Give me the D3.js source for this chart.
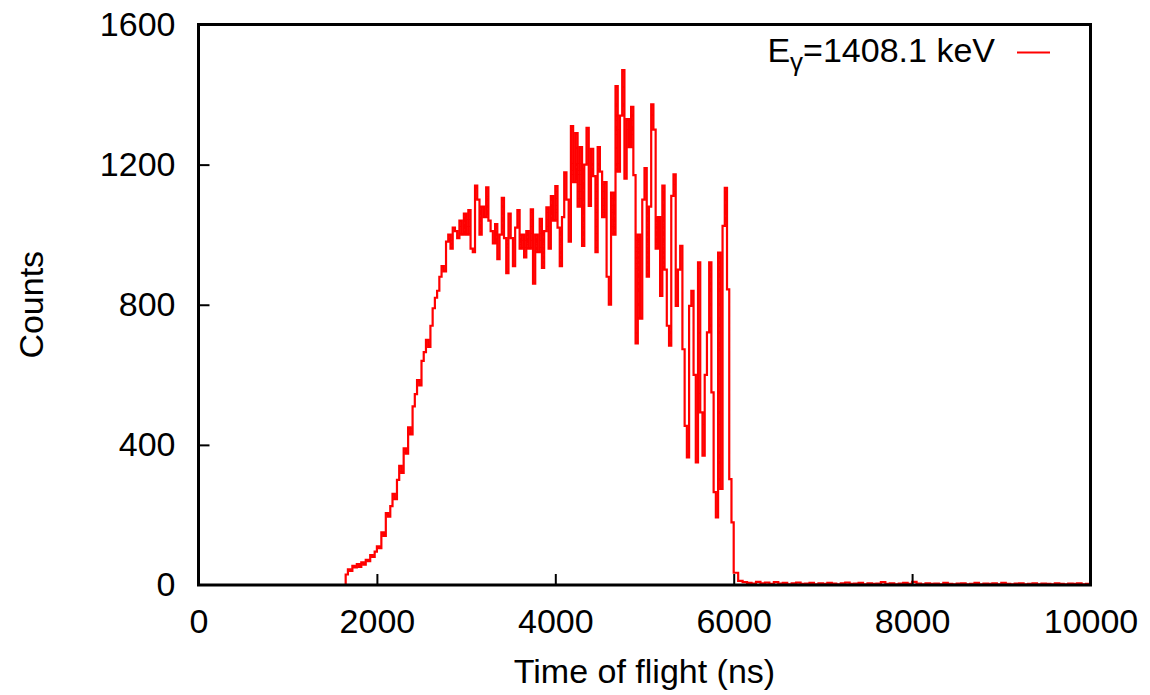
<!DOCTYPE html>
<html>
<head>
<meta charset="utf-8">
<script src="https://cdn.jsdelivr.net/npm/d3@7"></script>
<style>
  body { margin: 0; background: #fff; }
  svg text { font-family: "Liberation Sans", Arial, Helvetica, sans-serif; fill: #000; }
</style>
</head>
<body>
<svg id="chart" width="1150" height="695"></svg>
<script>
// histogram, 25 ns bins from 1650 ns up to 6000 ns
var binStart = 1650,
    binWidth = 25,
    counts = [
      30, 45, 40, 55, 50, 60, 52, 65, 58, 72, 68, 85, 80, 95,
      110, 105, 150, 140, 205, 195, 225, 260, 245, 300,
      340, 320, 390, 375, 450, 430, 510, 545, 585, 570,
      640, 665, 700, 680, 740, 790, 820, 840, 880, 910,
      895, 980, 1000, 960, 1020, 1010, 990, 1040, 1000, 1060,
      1000, 1070, 960, 950, 1140, 1100, 1000, 1080, 1050, 1135,
      1040, 1010, 975, 1030, 930, 1000, 1105, 990, 890, 1060,
      990, 910, 1020, 1070, 960, 1000, 935, 1010, 960, 1072,
      860, 1000, 950, 1045, 905, 1010, 1078, 960, 1110, 1040,
      1139, 1020, 910, 1050, 1178, 1100, 980, 1310, 1150, 1290,
      1080, 1250, 968, 1200, 1305, 1082, 1245, 1167, 950, 1250,
      1180, 1050, 1150, 880, 800, 1120, 1000, 1424, 1180, 1340,
      1470, 1160, 1330, 1250, 1365, 1170, 690, 1000, 760, 1100,
      1190, 880, 1080, 1372, 1300, 960, 1050, 825, 1140, 900,
      740, 683, 1111, 1172, 797, 900, 968, 673, 454, 364,
      797, 840, 600, 350, 921, 493, 369, 600, 721, 921,
      550, 265, 193, 949, 274, 1025, 1134, 844, 302, 179
    ];

// tail after the cut-off, 50 ns bins from 6000 ns
var tailStart = 6000,
    tailWidth = 50,
    tailCounts = [
      35, 12, 8, 6, 4, 9, 5, 7, 3, 8, 4, 6, 2, 5, 7, 3, 4, 6, 2, 5,
      3, 6, 4, 2, 5, 7, 3, 4, 6, 2, 5, 3, 4, 8, 3, 5, 2, 4, 6, 3,
      9, 4, 2, 5, 3, 4, 2, 6, 3, 2, 4, 5, 2, 3, 6, 2, 4, 3, 5, 2,
      6, 3, 2, 4, 5, 2, 3, 5, 2, 4, 3, 2, 5, 3, 2, 4, 3, 5, 2, 3
    ];

var xTicks = [0, 2000, 4000, 6000, 8000, 10000],
    yTicks = [0, 400, 800, 1200, 1600];

var legendLabel = "1408.1 keV";

var margin = {left: 198.5, top: 24.5, right: 1090.5, bottom: 585},
    fontSize = 34;

var svg = d3.select("#chart");

var x = d3.scaleLinear().domain([0, 10000]).range([margin.left, margin.right]),
    y = d3.scaleLinear().domain([0, 1600]).range([margin.bottom, margin.top]);

// build step points
var pts = [[binStart, 0]];
counts.forEach(function(c, i){ pts.push([binStart + i * binWidth, c]); });
tailCounts.forEach(function(c, i){ pts.push([tailStart + i * tailWidth, c]); });
pts.push([10000, tailCounts[tailCounts.length - 1]]);

svg.append("clipPath")
    .attr("id", "plotclip")
  .append("rect")
    .attr("x", margin.left)
    .attr("y", margin.top)
    .attr("width", margin.right - margin.left)
    .attr("height", margin.bottom - margin.top);

var line = d3.line()
    .x(function(d){ return x(d[0]); })
    .y(function(d){ return y(d[1]); })
    .curve(d3.curveStepAfter);

svg.append("path")
    .datum(pts)
    .attr("clip-path", "url(#plotclip)")
    .attr("d", line)
    .style("fill", "none")
    .style("stroke", "#ff0000")
    .style("stroke-width", 2.2)
    .style("stroke-linejoin", "miter");

// axes, ticks inward
var xAxis = svg.append("g")
    .attr("transform", "translate(0," + margin.bottom + ")")
    .call(d3.axisBottom(x).tickValues(xTicks).tickFormat(d3.format("d"))
      .tickSizeInner(-11).tickSizeOuter(0).tickPadding(24));

var yAxis = svg.append("g")
    .attr("transform", "translate(" + margin.left + ",0)")
    .call(d3.axisLeft(y).tickValues(yTicks).tickFormat(d3.format("d"))
      .tickSizeInner(-11).tickSizeOuter(0).tickPadding(23));

[xAxis, yAxis].forEach(function(g){
  g.select(".domain").remove();
  g.selectAll(".tick line").style("stroke", "#000").style("stroke-width", 2);
  g.selectAll(".tick text")
    .style("font-size", fontSize + "px")
    .style("font-family", "'Liberation Sans', Arial, sans-serif");
});

// first/last ticks sit on the frame
xAxis.selectAll(".tick line").filter(function(d){ return d === 0 || d === 10000; }).remove();
yAxis.selectAll(".tick line").filter(function(d){ return d === 0 || d === 1600; }).remove();

// frame
svg.append("rect")
    .attr("x", margin.left)
    .attr("y", margin.top)
    .attr("width", margin.right - margin.left)
    .attr("height", margin.bottom - margin.top)
    .style("fill", "none")
    .style("stroke", "#000")
    .style("stroke-width", 3);

// axis titles
svg.append("text")
    .attr("x", (margin.left + margin.right) / 2)
    .attr("y", 683)
    .attr("text-anchor", "middle")
    .style("font-size", fontSize + "px")
    .text("Time of flight (ns)");

svg.append("text")
    .attr("transform", "translate(43," + (margin.top + margin.bottom) / 2 + ") rotate(-90)")
    .attr("text-anchor", "middle")
    .style("font-size", fontSize + "px")
    .text("Counts");

// legend
var leg = svg.append("text")
    .attr("x", 995)
    .attr("y", 62)
    .attr("text-anchor", "end")
    .style("font-size", fontSize + "px");
leg.append("tspan").text("E");
leg.append("tspan").attr("dy", 9).style("font-size", "26px").text("γ");
leg.append("tspan").attr("dy", -9).text("=" + legendLabel);

svg.append("line")
    .attr("x1", 1017).attr("x2", 1050)
    .attr("y1", 52.5).attr("y2", 52.5)
    .style("stroke", "#ff0000")
    .style("stroke-width", 1.8);
</script>
</body>
</html>
